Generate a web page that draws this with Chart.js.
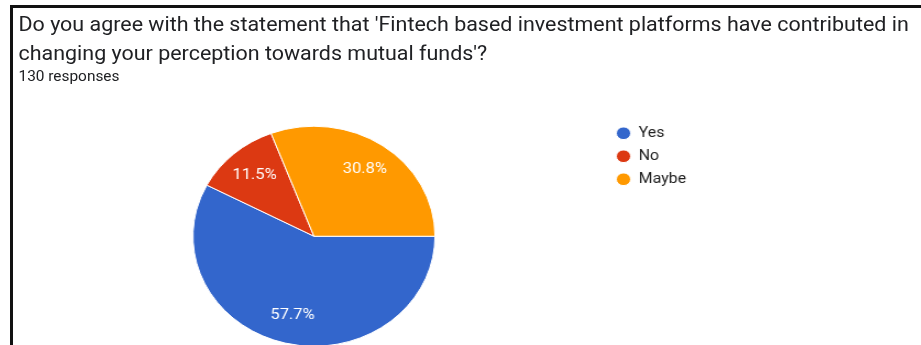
<!DOCTYPE html>
<html>
<head>
<meta charset="utf-8">
<script src="https://cdn.jsdelivr.net/npm/chart.js@4.4.1/dist/chart.umd.min.js"></script>
<style>
    html, body { margin: 0; padding: 0; background: #fff; overflow: hidden; }
    #marco {
        position: absolute; left: 10px; top: 5px;
        width: 911px; height: 340px;
        border-top: 3px solid #111; border-left: 3px solid #111;
        overflow: hidden;
    }
    /* la captura original viene estirada a lo ancho */
    #contenido {
        position: absolute; left: 0; top: 0;
        width: 826px; height: 347px;
        transform: scaleX(1.1); transform-origin: 0 0;
        font-family: Roboto, sans-serif; color: #202124;
    }
    #titulo {
        position: absolute; left: 5px; top: 1.8px;
        font-size: 19.5px; line-height: 29px; white-space: nowrap;
    }
    #respuestas {
        position: absolute; left: 5px; top: 61px;
        font-size: 14px; line-height: 14px;
    }
    #grafica { position: absolute; left: 0; top: 0; }
</style>
</head>
<body>
<div id="marco">
    <div id="contenido">
        <div id="titulo">Do you agree with the statement that 'Fintech based investment platforms have contributed in<br>changing your perception towards mutual funds'?</div>
        <div id="respuestas">130 responses</div>
        <canvas id="grafica" width="826" height="347"></canvas>
    </div>
</div>
<script>
// Datos de la encuesta (130 respuestas)
const opciones = ['Yes', 'No', 'Maybe'];
const respuestas = [75, 15, 40];
const colores = ['#3366cc', '#dc3912', '#ff9900'];

// Posición deseada del borde izquierdo de la leyenda
const leyendaX = 540;

// Porcentajes dentro de cada porción
const etiquetasPorcion = {
    id: 'etiquetasPorcion',
    afterDatasetsDraw(chart) {
        const ctx = chart.ctx;
        const total = respuestas.reduce((a, b) => a + b, 0);
        chart.getDatasetMeta(0).data.forEach((arc, i) => {
            const p = arc.getProps(['x', 'y', 'startAngle', 'endAngle', 'outerRadius'], true);
            const medio = (p.startAngle + p.endAngle) / 2;
            const r = p.outerRadius * 0.74;
            ctx.save();
            ctx.fillStyle = '#ffffff';
            ctx.font = '15px Roboto';
            ctx.textAlign = 'center';
            ctx.textBaseline = 'middle';
            ctx.fillText((respuestas[i] / total * 100).toFixed(1) + '%',
                p.x + Math.cos(medio) * r, p.y + Math.sin(medio) * r);
            ctx.restore();
        });
    }
};

const grafica = new Chart(document.getElementById('grafica'), {
    type: 'pie',
    data: {
        labels: opciones,
        datasets: [{
            data: respuestas,
            backgroundColor: colores,
            borderColor: '#ffffff',
            borderWidth: 1,
            radius: 110
        }]
    },
    options: {
        responsive: false,
        animation: false,
        devicePixelRatio: 1,
        rotation: 90, // empieza a las 3 en punto
        layout: {
            padding: { top: 109.5, left: 7.2, right: 200, bottom: 0 }
        },
        plugins: {
            legend: {
                position: 'right',
                align: 'start',
                labels: {
                    usePointStyle: true,
                    pointStyle: 'circle',
                    boxHeight: 9,
                    pointStyleWidth: 13,
                    padding: 8.5,
                    color: '#222222',
                    font: { family: 'Roboto', size: 14.5 }
                }
            },
            tooltip: { enabled: false }
        }
    },
    plugins: [etiquetasPorcion]
});

// Ajustar el margen derecho para que la leyenda quede en su sitio
grafica.options.layout.padding.right = grafica.width - leyendaX - grafica.legend.width;
grafica.update('none');
</script>
</body>
</html>
